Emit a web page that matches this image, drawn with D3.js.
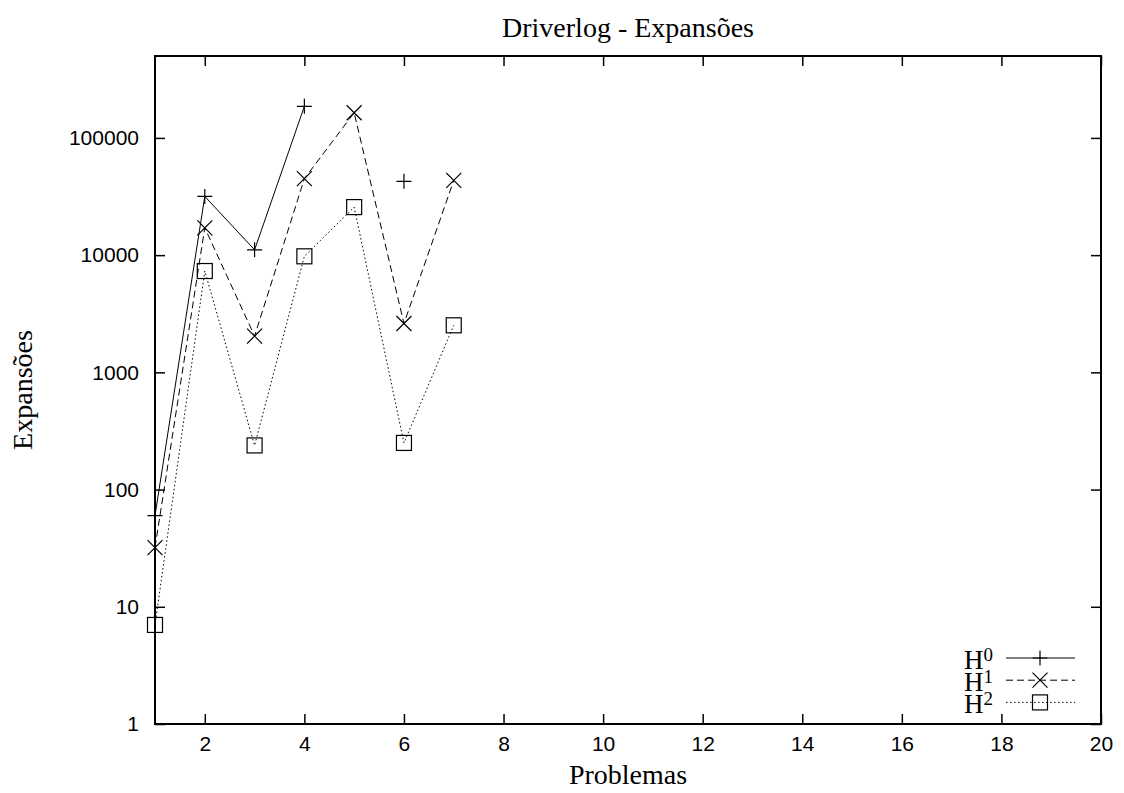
<!DOCTYPE html>
<html>
<head>
<meta charset="utf-8">
<script src="https://cdn.jsdelivr.net/npm/d3@7"></script>
<style>
  body { margin: 0; background: #fff; }
  .tick text { font-family: "Liberation Sans", Arial, sans-serif; font-size: 21px; fill: #000; }
  .lbl { font-family: "Liberation Serif", "Times New Roman", serif; font-size: 28px; fill: #000; }
</style>
</head>
<body>
<svg width="1124" height="793"></svg>
<script>
// problem numbers and expansions per heuristic (null = no result)
var problems = [1, 2, 3, 4, 5, 6, 7];
var h0 = [60, 31700, 11100, 186000, null, 42600, null];
var h1 = [32, 17100, 2040, 44900, 164000, 2610, 43400];
var h2 = [7, 7320, 238, 9770, 25700, 250, 2520];
var xTicks = [2, 4, 6, 8, 10, 12, 14, 16, 18, 20];
var yTicks = [1, 10, 100, 1000, 10000, 100000];

var svg = d3.select("svg"),
    margin = {top: 56, right: 23, bottom: 69, left: 155},
    width = +svg.attr("width") - margin.left - margin.right,
    height = +svg.attr("height") - margin.top - margin.bottom,
    g = svg.append("g").attr("transform", "translate(" + margin.left + "," + margin.top + ")");

var x = d3.scaleLinear().domain([1, 20]).range([0, width]);
var y = d3.scaleLog().domain([1, 500000]).range([height, 0]);

function styleAxis(sel, hideText) {
  sel.select(".domain").remove();
  sel.selectAll(".tick line").attr("stroke", "#000").attr("stroke-width", 1.5);
  if (hideText) sel.selectAll(".tick text").remove();
}

// bottom / top x axis
g.append("g")
    .attr("transform", "translate(0," + height + ")")
    .call(d3.axisBottom(x).tickValues(xTicks).tickSize(-10).tickPadding(12).tickFormat(d3.format("d")))
    .call(styleAxis);
g.append("g")
    .call(d3.axisTop(x).tickValues(xTicks).tickSize(-10).tickFormat(""))
    .call(styleAxis, true);

// left / right y axis
g.append("g")
    .call(d3.axisLeft(y).tickValues(yTicks).tickSize(-10).tickPadding(16).tickFormat(d3.format("d")))
    .call(styleAxis);
g.append("g")
    .attr("transform", "translate(" + width + ",0)")
    .call(d3.axisRight(y).tickValues(yTicks).tickSize(-10).tickFormat(""))
    .call(styleAxis, true);

g.append("rect")
    .attr("width", width).attr("height", height)
    .attr("fill", "none").attr("stroke", "#000").attr("stroke-width", 2);

var series = [
  {name: "0", values: h0, dash: null, marker: "plus"},
  {name: "1", values: h1, dash: "7,4", marker: "cross"},
  {name: "2", values: h2, dash: "1.5,2.5", marker: "square"}
];

var line = d3.line()
    .defined(function(d) { return d.v != null; })
    .x(function(d) { return x(d.p); })
    .y(function(d) { return y(d.v); });

function drawMarker(sel, type) {
  var s = 7.5;
  if (type === "plus") {
    sel.append("path").attr("d", "M" + (-s) + ",0H" + s + "M0," + (-s) + "V" + s);
  } else if (type === "cross") {
    sel.append("path").attr("d", "M" + (-s) + "," + (-s) + "L" + s + "," + s + "M" + (-s) + "," + s + "L" + s + "," + (-s));
  } else {
    sel.append("rect").attr("x", -s).attr("y", -s).attr("width", 2 * s).attr("height", 2 * s);
  }
  sel.selectAll("path, rect").attr("fill", "none").attr("stroke", "#000").attr("stroke-width", 1.2);
}

series.forEach(function(s) {
  var pts = problems.map(function(p, i) { return {p: p, v: s.values[i]}; });
  g.append("path")
      .datum(pts)
      .attr("fill", "none")
      .attr("stroke", "#000")
      .attr("stroke-width", 1)
      .attr("stroke-dasharray", s.dash)
      .attr("d", line);
  g.selectAll(null)
      .data(pts.filter(function(d) { return d.v != null; }))
    .enter().append("g")
      .attr("transform", function(d) { return "translate(" + x(d.p) + "," + y(d.v) + ")"; })
      .each(function() { drawMarker(d3.select(this), s.marker); });
});

// legend
var legend = svg.append("g");
series.forEach(function(s, i) {
  var yy = 658 + i * 22.2;
  var t = legend.append("text")
      .attr("class", "lbl")
      .attr("x", 993).attr("y", yy + 11)
      .attr("text-anchor", "end")
      .style("font-size", "27px");
  t.append("tspan").text("H");
  t.append("tspan").attr("dy", -8).style("font-size", "19px").text(s.name);
  legend.append("line")
      .attr("x1", 1006).attr("x2", 1075).attr("y1", yy).attr("y2", yy)
      .attr("stroke", "#000").attr("stroke-width", 1)
      .attr("stroke-dasharray", s.dash);
  legend.append("g")
      .attr("transform", "translate(1040," + yy + ")")
      .call(drawMarker, s.marker);
});

// titles
svg.append("text").attr("class", "lbl")
    .attr("x", margin.left + width / 2).attr("y", 37)
    .attr("text-anchor", "middle").text("Driverlog - Expansões");
svg.append("text").attr("class", "lbl")
    .attr("x", margin.left + width / 2).attr("y", 784)
    .attr("text-anchor", "middle").text("Problemas");
svg.append("text").attr("class", "lbl")
    .attr("transform", "translate(32," + (margin.top + height / 2) + ") rotate(-90)")
    .attr("text-anchor", "middle").text("Expansões");
</script>
</body>
</html>
